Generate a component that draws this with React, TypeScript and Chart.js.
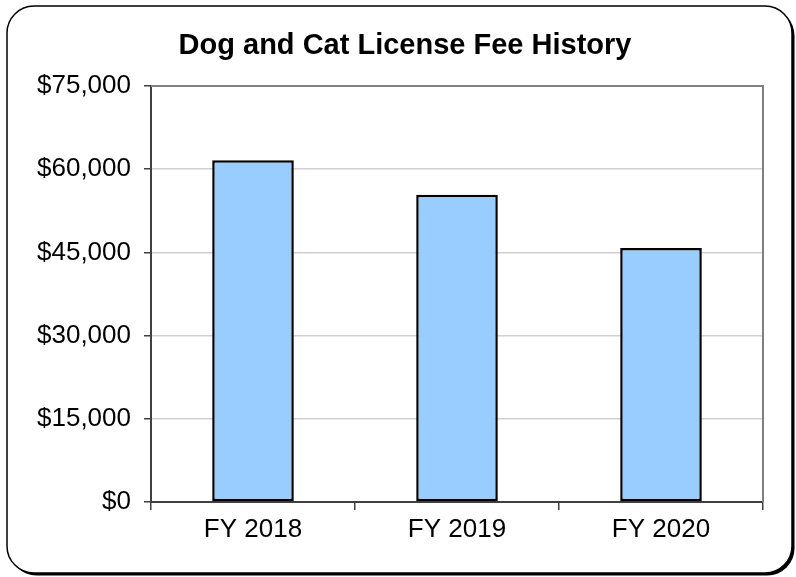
import React, { useEffect, useRef } from "react";
import { Chart, registerables } from "chart.js";

Chart.register(...registerables);

const categories = ["FY 2018", "FY 2019", "FY 2020"];
const feeValues = [61600, 55400, 45800];
const yTickValues = [0, 15000, 30000, 45000, 60000, 75000];
const chartTitle = "Dog and Cat License Fee History";

const FONT = "'Liberation Sans', Arial, sans-serif";

const framePlugin = {
  id: "frame",
  beforeDraw(chart: any) {
    const ctx = chart.ctx;
    ctx.save();
    ctx.fillStyle = "#ffffff";
    ctx.fillRect(0, 0, chart.width, chart.height);
    const x = 7, y = 6, w = 785, h = 567, r = 27;
    const path = () => {
      ctx.beginPath();
      ctx.moveTo(x + r, y);
      ctx.lineTo(x + w - r, y);
      ctx.arcTo(x + w, y, x + w, y + r, r);
      ctx.lineTo(x + w, y + h - r);
      ctx.arcTo(x + w, y + h, x + w - r, y + h, r);
      ctx.lineTo(x + r, y + h);
      ctx.arcTo(x, y + h, x, y + h - r, r);
      ctx.lineTo(x, y + r);
      ctx.arcTo(x, y, x + r, y, r);
      ctx.closePath();
    };
    ctx.save();
    ctx.translate(2.5, 2.5);
    path();
    ctx.fillStyle = "#000000";
    ctx.fill();
    ctx.restore();
    path();
    ctx.fillStyle = "#ffffff";
    ctx.fill();
    ctx.lineWidth = 1.5;
    ctx.strokeStyle = "#000000";
    ctx.stroke();
    ctx.fillStyle = "#000000";
    ctx.font = `bold 29px ${FONT}`;
    ctx.textAlign = "center";
    ctx.textBaseline = "middle";
    ctx.fillText(chartTitle, 405, 46);
    ctx.restore();
  },
  afterDatasetsDraw(chart: any) {
    const { ctx, chartArea } = chart;
    ctx.save();
    ctx.strokeStyle = "#808080";
    ctx.lineWidth = 2;
    ctx.beginPath();
    ctx.moveTo(chartArea.left, chartArea.top);
    ctx.lineTo(chartArea.right, chartArea.top);
    ctx.lineTo(chartArea.right, chartArea.bottom);
    ctx.stroke();
    ctx.restore();
  },
};

export default function App() {
  const ref = useRef<HTMLCanvasElement>(null);
  useEffect(() => {
    document.body.style.margin = "0";
    const chart = new Chart(ref.current!, {
      type: "bar",
      data: {
        labels: categories,
        datasets: [
          {
            data: feeValues,
            backgroundColor: "#99ccff",
            borderColor: "#000000",
            borderWidth: 2.5,
            borderSkipped: false,
            barPercentage: 0.4,
            categoryPercentage: 1,
          },
        ],
      },
      options: {
        responsive: false,
        animation: false,
        layout: { padding: { left: 9, right: 33, top: 86, bottom: 0 } },
        plugins: {
          legend: { display: false },
          title: { display: false },
          tooltip: { enabled: false },
        },
        scales: {
          x: {
            offset: true,
            afterFit(scale: any) {
              scale.height = 75;
            },
            grid: {
              offset: true,
              drawOnChartArea: false,
              drawTicks: true,
              tickLength: 8,
              tickColor: "#404040",
              lineWidth: 1.5,
            },
            border: { color: "#404040", width: 2 },
            ticks: {
              color: "#000000",
              font: { family: FONT, size: 26 },
              padding: 4,
            },
          },
          y: {
            min: 0,
            max: 75000,
            afterFit(scale: any) {
              scale.width = 142;
            },
            afterBuildTicks(scale: any) {
              scale.ticks = yTickValues.map((v) => ({ value: v }));
            },
            grid: {
              color: "#d0d0d0",
              lineWidth: 1.5,
              drawTicks: true,
              tickLength: 7,
              tickColor: "#404040",
            },
            border: { color: "#404040", width: 2 },
            ticks: {
              color: "#000000",
              font: { family: FONT, size: 26 },
              padding: 13,
              callback: (v: any) => "$" + Number(v).toLocaleString("en-US"),
            },
          },
        },
      },
      plugins: [framePlugin],
    });
    return () => chart.destroy();
  }, []);
  return <canvas ref={ref} width={796} height={577} style={{ display: "block" }} />;
}
